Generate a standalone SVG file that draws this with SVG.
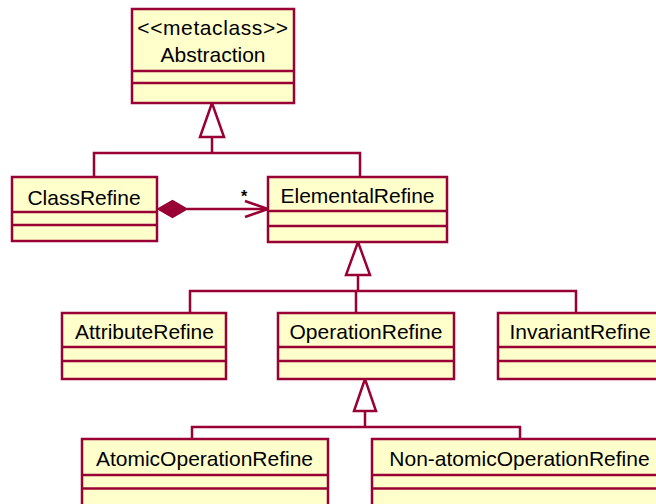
<svg xmlns="http://www.w3.org/2000/svg" width="656" height="504" viewBox="0 0 656 504">
<style>
.box{fill:#FFFFCC;stroke:#990033;stroke-width:2.5}
.ln{fill:none;stroke:#990033;stroke-width:2.5}
.tri{fill:#FFFFFF;stroke:#990033;stroke-width:2.5;stroke-linejoin:miter}
.dia{fill:#990033;stroke:#990033;stroke-width:1.5}
text{font-family:"Liberation Sans",Arial,sans-serif;font-size:21px;fill:#000;text-anchor:middle}
.mult{font-size:16px;font-weight:bold}
.stereo{letter-spacing:0.6px}
</style>
<rect width="656" height="504" fill="#FFFFFF"/>
<g id="connectors">
  <polygon class="tri" points="212,103 200,137 224,137"/>
  <polyline class="ln" points="212,137 212,153"/>
  <polyline class="ln" points="94,177 94,153 360,153 360,177"/>
  <polygon class="tri" points="358,242 346,275 370,275"/>
  <polyline class="ln" points="358,275 358,291"/>
  <polyline class="ln" points="190,313 190,291 576,291 576,313"/>
  <polyline class="ln" points="356,291 356,313"/>
  <polygon class="tri" points="365,379 354,411 376,411"/>
  <polyline class="ln" points="365,411 365,427"/>
  <polyline class="ln" points="192,439 192,427 520,427 520,439"/>
  <polygon class="dia" points="158,209 172.5,200.5 187,209 172.5,217.5"/>
  <polyline class="ln" points="187,209 268,209"/>
  <polyline class="ln" points="245,201 268,209 245,217"/>
  <text class="mult" x="244" y="202">*</text>
</g>
<g id="Abstraction">
  <rect class="box" x="132" y="9" width="162" height="94"/>
  <line class="ln" x1="132" y1="71" x2="294" y2="71"/>
  <line class="ln" x1="132" y1="83" x2="294" y2="83"/>
  <text class="stereo" x="213" y="35">&lt;&lt;metaclass&gt;&gt;</text>
  <text x="213" y="62">Abstraction</text>
</g>
<g id="ClassRefine">
  <rect class="box" x="12" y="177" width="145" height="64"/>
  <line class="ln" x1="12" y1="212" x2="157" y2="212"/>
  <line class="ln" x1="12" y1="225" x2="157" y2="225"/>
  <text x="84" y="205">ClassRefine</text>
</g>
<g id="ElementalRefine">
  <rect class="box" x="268" y="177" width="179" height="65"/>
  <line class="ln" x1="268" y1="211" x2="447" y2="211"/>
  <line class="ln" x1="268" y1="226" x2="447" y2="226"/>
  <text x="357.5" y="203">ElementalRefine</text>
</g>
<g id="AttributeRefine">
  <rect class="box" x="62" y="313" width="164" height="66"/>
  <line class="ln" x1="62" y1="347" x2="226" y2="347"/>
  <line class="ln" x1="62" y1="361" x2="226" y2="361"/>
  <text x="144.5" y="338.5">AttributeRefine</text>
</g>
<g id="OperationRefine">
  <rect class="box" x="278" y="313" width="176" height="66"/>
  <line class="ln" x1="278" y1="347" x2="454" y2="347"/>
  <line class="ln" x1="278" y1="361" x2="454" y2="361"/>
  <text x="366" y="338.5">OperationRefine</text>
</g>
<g id="InvariantRefine">
  <rect class="box" x="498" y="313" width="164" height="66"/>
  <line class="ln" x1="498" y1="347" x2="662" y2="347"/>
  <line class="ln" x1="498" y1="361" x2="662" y2="361"/>
  <text x="580" y="338.5">InvariantRefine</text>
</g>
<g id="AtomicOperationRefine">
  <rect class="box" x="82" y="439" width="246" height="80"/>
  <line class="ln" x1="82" y1="475" x2="328" y2="475"/>
  <line class="ln" x1="82" y1="488.5" x2="328" y2="488.5"/>
  <text x="204.5" y="466">AtomicOperationRefine</text>
</g>
<g id="NonAtomicOperationRefine">
  <rect class="box" x="372" y="439" width="295" height="80"/>
  <line class="ln" x1="372" y1="475" x2="667" y2="475"/>
  <line class="ln" x1="372" y1="488.5" x2="667" y2="488.5"/>
  <text x="519.5" y="466">Non-atomicOperationRefine</text>
</g>
</svg>
